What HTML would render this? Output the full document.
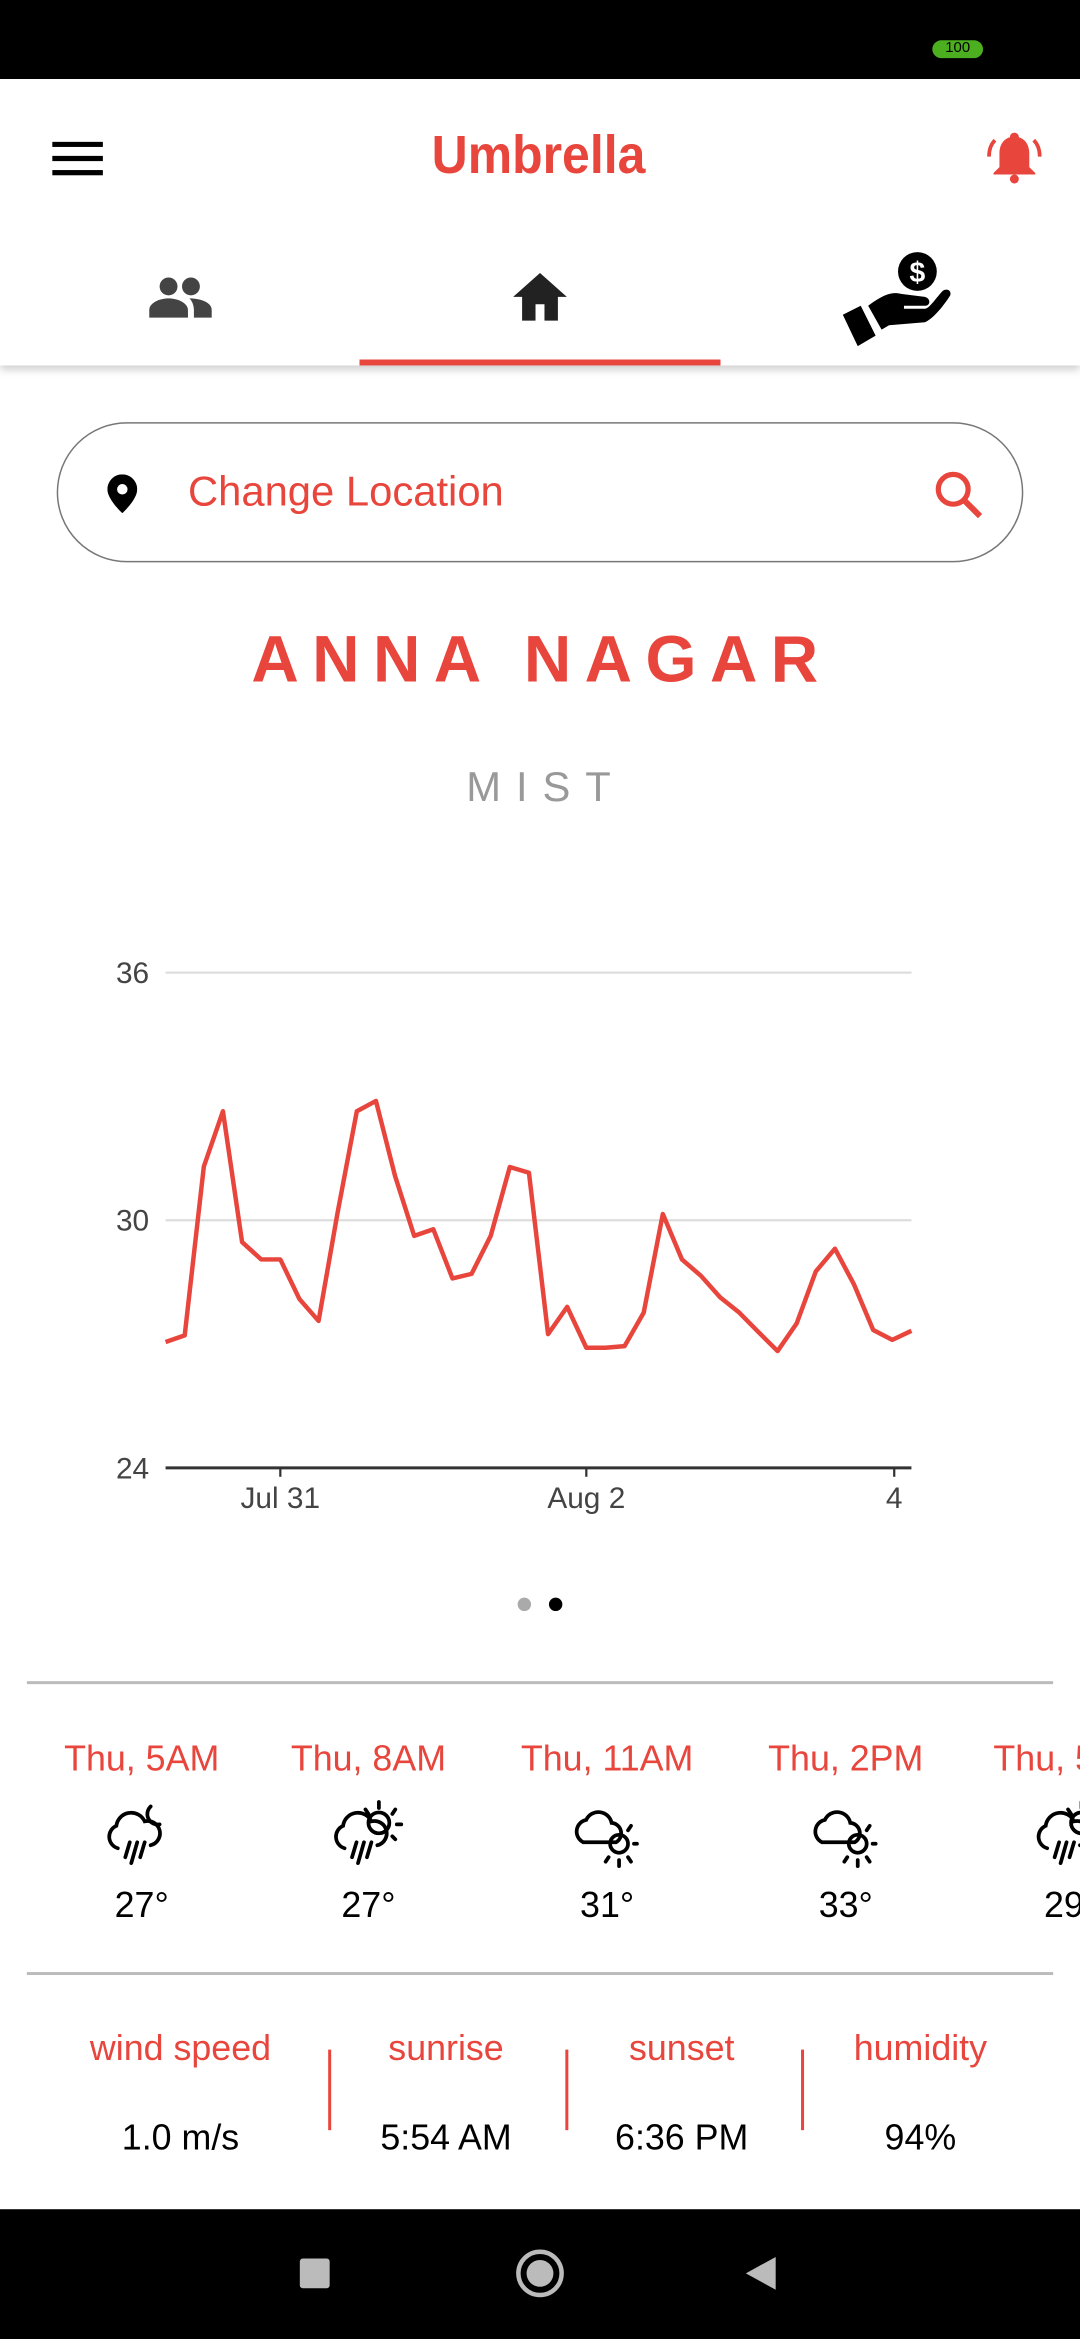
<!DOCTYPE html>
<html><head><meta charset="utf-8">
<style>
html,body{margin:0;padding:0;width:1080px;height:2340px;overflow:hidden;background:#fff;font-family:"Liberation Sans",sans-serif;}
#stage{position:absolute;left:0;top:0;width:724px;height:1568px;transform:scale(1.49171);transform-origin:0 0;background:#fff;}
.abs{position:absolute;}
.red{color:#e8453c;}
.c{transform:translateX(-50%);white-space:nowrap;}
</style></head><body>
<div id="stage">
  <div class="abs" style="left:0;top:0;width:724px;height:53px;background:#000;">
    <div class="abs" style="left:625px;top:27px;width:34px;height:12px;border-radius:6px;background:#4caf20;color:#000;font-size:10px;line-height:12px;text-align:center;">100</div>
  </div>
  <div class="abs" style="left:0;top:53px;width:724px;height:192px;background:#fff;box-shadow:0 3px 5px rgba(0,0,0,0.18);">
    <svg class="abs" style="left:35px;top:42px" width="34" height="24"><rect y="0" width="34" height="3.5" fill="#000"/><rect y="9.5" width="34" height="3.5" fill="#000"/><rect y="19" width="34" height="3.5" fill="#000"/></svg>
    <div class="abs c red" style="left:361px;top:30px;font-size:36px;font-weight:bold;transform:translateX(-50%) scaleX(0.93);">Umbrella</div>
    <svg class="abs" style="left:660px;top:32px" width="40" height="40" viewBox="0 0 40 40"><path d="M20 4c-2 0-3 1.5-3 3C12 8.5 10 13 10 18v9l-4 4v1h28v-1l-4-4v-9c0-5-2-9.5-7-11 0-1.5-1-3-3-3z" fill="#e8453c"/><circle cx="20" cy="35" r="3" fill="#e8453c"/><path d="M7 9C4 12 3 16 3 20M33 9c3 3 4 7 4 11" stroke="#e8453c" stroke-width="2.5" fill="none"/></svg>
    <svg class="abs" style="left:100px;top:132px" width="42" height="28" viewBox="0 0 42 28"><circle cx="13" cy="7" r="6" fill="#444"/><circle cx="28" cy="7" r="6" fill="#444"/><path d="M0 28v-5c0-5 7-8 13-8s13 3 13 8v5z" fill="#444"/><path d="M27 15c6 0 15 2 15 8v5H30v-5c0-3-1-6-3-8z" fill="#444"/></svg>
    <svg class="abs" style="left:344px;top:130px" width="36" height="32" viewBox="0 0 36 32"><path d="M18 0L0 16h6v16h9V21h6v11h9V16h6z" fill="#222"/></svg>
    <svg class="abs" style="left:562px;top:112px" width="82" height="68" viewBox="0 0 82 68"><circle cx="53" cy="17" r="13" fill="#000"/><text x="53" y="24" font-size="19" font-weight="bold" text-anchor="middle" fill="#fff" font-family="Liberation Sans">$</text><path d="M20 40c8-6 15-10 22-8l16 2c4 1 4 6 0 6H44v2h14c3 0 8-8 12-12 3-2 6 0 5 3-5 8-12 16-17 18l-24 2-5 3z" fill="#000"/><path d="M3 46l12-6 10 20-12 7z" fill="#000"/></svg>
    <div class="abs" style="left:241px;top:188px;width:242px;height:4px;background:#e8453c;"></div>
  </div>
  <div class="abs" style="left:38px;top:283px;width:646px;height:92px;border:1.5px solid #777;border-radius:47px;background:#fff;">
    <svg class="abs" style="left:33px;top:34px" width="20" height="26" viewBox="0 0 20 26"><path d="M10 0C4.5 0 0 4.5 0 10c0 7 10 16 10 16s10-9 10-16C20 4.5 15.5 0 10 0z" fill="#000"/><circle cx="10" cy="10" r="3.5" fill="#fff"/></svg>
    <div class="abs red" style="left:87px;top:30px;font-size:28px;">Change Location</div>
    <svg class="abs" style="left:587px;top:31px" width="34" height="34" viewBox="0 0 34 34"><circle cx="13" cy="13" r="10" stroke="#e8453c" stroke-width="3.5" fill="none"/><path d="M20 20l11 11" stroke="#e8453c" stroke-width="4"/></svg>
  </div>
  <div class="abs c red" style="left:363px;top:418px;font-size:44px;font-weight:bold;letter-spacing:9px;">ANNA NAGAR</div>
  <div class="abs c" style="left:366px;top:512px;font-size:28px;color:#999;letter-spacing:10px;font-weight:300;">MIST</div>

  <svg class="abs" id="chart" style="left:0;top:600px" width="724" height="430"></svg>

  <div class="abs" style="left:347px;top:1071px;width:9px;height:9px;border-radius:50%;background:#aaa;"></div>
  <div class="abs" style="left:368px;top:1071px;width:9px;height:9px;border-radius:50%;background:#000;"></div>
  <div class="abs" style="left:18px;top:1127px;width:688px;height:1.5px;background:#bbb;"></div>

  <div id="forecast" class="abs" style="left:0;top:1165px;width:724px;height:150px;overflow:hidden;"></div>

  <div class="abs" style="left:18px;top:1322px;width:688px;height:1.5px;background:#bbb;"></div>

  <div id="stats" class="abs" style="left:0;top:1353px;width:724px;height:110px;"></div>

  <div class="abs" style="left:0;top:1481px;width:724px;height:87px;background:#000;">
    <div class="abs" style="left:201px;top:33px;width:20px;height:20px;background:#bbb;border-radius:2px;"></div>
    <div class="abs" style="left:346px;top:27px;width:26px;height:26px;border:3px solid #bbb;border-radius:50%;"><div style="position:absolute;left:4px;top:4px;width:18px;height:18px;border-radius:50%;background:#bbb;"></div></div>
    <svg class="abs" style="left:498px;top:31px" width="24" height="24"><path d="M22 1L2 12l20 11z" fill="#bbb"/></svg>
  </div>
</div>
<script>
const temps=[27.05,27.21,31.30,32.64,29.47,29.05,29.05,28.09,27.56,30.2,32.64,32.89,31.07,29.62,29.78,28.59,28.70,29.62,31.29,31.15,27.24,27.90,26.91,26.91,26.95,27.76,30.15,29.05,28.65,28.13,27.76,27.29,26.83,27.50,28.76,29.31,28.44,27.34,27.10,27.32];
const yTicks=[24,30,36];
const xTickLabels=["Jul 31","Aug 2","4"];
const xTickIndex=[6.0,22.0,38.1];
(function(){
const NS="http://www.w3.org/2000/svg";
const svg=document.getElementById('chart');
const x0=111,x1=611,oy=600;
const n=temps.length;
const xs=i=>x0+(x1-x0)*i/(n-1);
const ys=v=>984-oy-(v-24)/(36-24)*(984-652);
function mk(t,a){const e=document.createElementNS(NS,t);for(const k in a)e.setAttribute(k,a[k]);svg.appendChild(e);return e;}
yTicks.forEach((v,i)=>{
  const g=mk('line',{x1:x0,x2:x1,y1:ys(v),y2:ys(v),stroke:i==0?'#333':'#ddd','stroke-width':i==0?2:1.5});
  
  
  const t=mk('text',{x:100,y:ys(v)+7,'text-anchor':'end','font-size':20,fill:'#444','font-family':'Liberation Sans'});
  t.textContent=v;
  
  
});
xTickLabels.forEach((l,i)=>{
  const x=x0+(x1-x0)*xTickIndex[i]/(n-1);
  const tk=mk('line',{x1:x,x2:x,y1:ys(24),y2:ys(24)+6,stroke:'#333','stroke-width':1.5});
  
  
  const t=mk('text',{x:x,y:ys(24)+27,'text-anchor':'middle','font-size':20,fill:'#444','font-family':'Liberation Sans'});
  t.textContent=l;
  
  
});
const p=mk('polyline',{points:temps.map((v,i)=>xs(i)+','+ys(v)).join(' '),fill:'none',stroke:'#e8453c','stroke-width':3,'stroke-linejoin':'round'});


})();
</script>
<script>
const fcTimes=["Thu, 5AM","Thu, 8AM","Thu, 11AM","Thu, 2PM","Thu, 5PM"];
const fcTemps=["27°","27°","31°","33°","29°"];
const fcIcons=["rain-night","rain-sun","cloud-sun","cloud-sun","rain-sun"];
(function(){
const fc=document.getElementById('forecast');
const centers=[95,247,407,567,718];
function icon(k){
  let s='<svg width="60" height="56" viewBox="0 0 60 56" fill="none" stroke="#000" stroke-width="2.5" stroke-linecap="round">';
  if(k==='cloud-sun'){
    s+='<path d="M14 32h22a7 7 0 0 0-3-13 9 9 0 0 0-17-2 8 8 0 0 0-2 15z"/><circle cx="38" cy="33" r="6"/><path d="M48 33h2M44 24l2-3M44 42l2 3M38 44v4M31 42l-2 3"/>';
  }else{
    s+='<path d="M14 36a8 8 0 0 1-1-15 10 10 0 0 1 19-3 8 8 0 0 1 4 16"/><path d="M22 32l-3 10M27 32l-4 14M32 32l-3 10"/>';
    if(k==='rain-sun')s+='<circle cx="37" cy="19" r="7"/><path d="M37 5v4M48 10l-2 3M52 20h-3M48 30l-2-2M28 10l2 3"/>';
    else s+='<path d="M36 8a7 7 0 0 0 6 12"/>';
  }
  return s+'</svg>';
}
fcTimes.forEach((t,i)=>{
  const d=document.createElement('div');
  
  
  d.style.cssText='position:absolute;left:'+(centers[i]-70)+'px;top:0;width:140px;text-align:center;';
  d.innerHTML='<div style="font-size:24px;color:#e8453c;height:30px;line-height:30px;">'+t+'</div><div style="height:62px;padding-top:8px;box-sizing:border-box;">'+icon(fcIcons[i])+'</div><div style="font-size:24px;color:#000;line-height:30px;margin-top:-14px;padding-top:20px;">'+fcTemps[i]+'</div>';
  fc.appendChild(d);
});
})();
</script>
<script>
const statLabels=["wind speed","sunrise","sunset","humidity"];
const statValues=["1.0 m/s","5:54 AM","6:36 PM","94%"];
(function(){
const st=document.getElementById('stats');
const centers=[121,299,457,617];
statLabels.forEach((l,i)=>{
  const d=document.createElement('div');
  
  
  d.style.cssText='position:absolute;left:'+(centers[i]-80)+'px;top:6px;width:160px;text-align:center;';
  d.innerHTML='<div style="font-size:24px;color:#e8453c;line-height:30px;">'+l+'</div><div style="font-size:24px;color:#000;line-height:30px;margin-top:30px;">'+statValues[i]+'</div>';
  st.appendChild(d);
});
[220,379,537].forEach(x=>{
  const s=document.createElement('div');
  
  
  s.style.cssText='position:absolute;left:'+x+'px;top:21px;width:2px;height:54px;background:#e8453c;';
  st.appendChild(s);
});
})();
</script>
</body></html>
